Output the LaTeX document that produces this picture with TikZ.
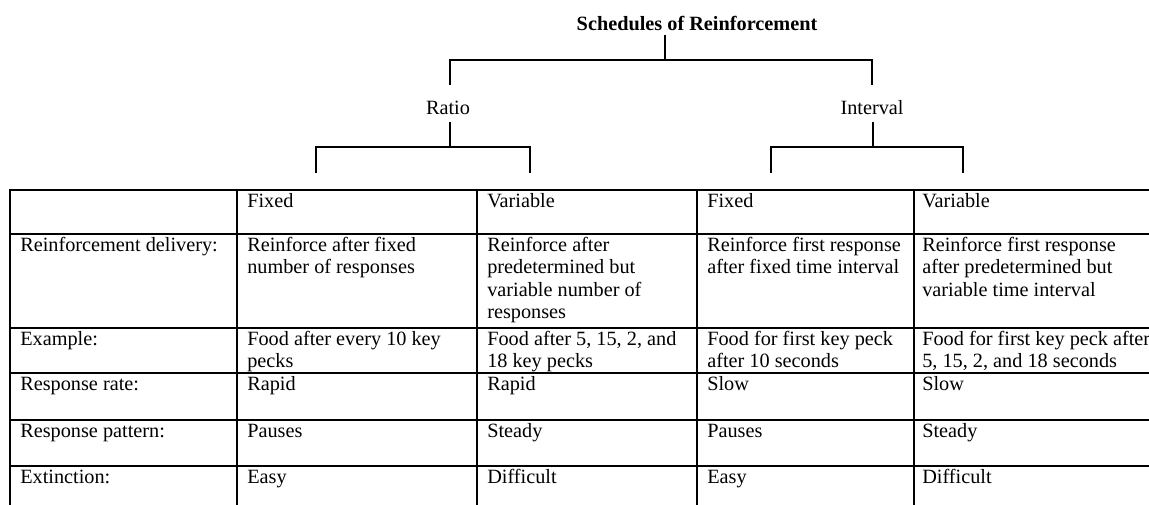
\documentclass[tikz,border=0pt]{standalone}
\usepackage{fontspec}
\setmainfont{Liberation Serif}
\begin{document}
\begin{tikzpicture}[x=0.75pt,y=-0.75pt,
  txt/.style={inner sep=0pt, font=\fontsize{15.2}{16.8}\selectfont},
  cell/.style={txt, anchor=north west, align=left, execute at begin node={\rule{0pt}{11pt}}},
  grid/.style={line width=1.4pt, line cap=rect},
  conn/.style={line width=1.5pt}]
\useasboundingbox (0,0) rectangle (1149,505);

% ---- tree ----
\node[txt, font=\fontsize{15.2}{16.8}\selectfont\bfseries] (title) at (697,23) {Schedules of Reinforcement};
\node[txt] (ratio) at (448,108) {Ratio};
\node[txt] (interval) at (872,108) {Interval};

\coordinate (t0) at (665,35);
\coordinate (t1) at (665,60);
\coordinate (rTop) at (450,85);
\coordinate (iTop) at (872,85);
\draw[conn] (t0) -- (t1);
\draw[conn] (rTop) -- (450,60) -- (872,60) -- (iTop);

\coordinate (rb0) at (450,122);
\coordinate (rbL) at (316,173);
\coordinate (rbR) at (530,173);
\draw[conn] (rb0) -- (450,147);
\draw[conn] (rbL) -- (316,147) -- (530,147) -- (rbR);

\coordinate (ib0) at (873,122);
\coordinate (ibL) at (771,173);
\coordinate (ibR) at (963,173);
\draw[conn] (ib0) -- (873,147);
\draw[conn] (ibL) -- (771,147) -- (963,147) -- (ibR);

% ---- table grid ----
\foreach \y in {190,234,328,373,420,466}
  \draw[grid] (10,\y) -- (1149,\y);
\foreach \x in {10,237,477,697,914}
  \draw[grid] (\x,190) -- (\x,505);

% ---- cells ----
% row 1
\node[cell] (h2) at (247,193) {Fixed};
\node[cell] (h3) at (487,193) {Variable};
\node[cell] (h4) at (707,193) {Fixed};
\node[cell] (h5) at (922,193) {Variable};
% row 2
\node[cell] (a1) at (20,237) {Reinforcement delivery:};
\node[cell] (a2) at (247,237) {Reinforce after fixed\\number of responses};
\node[cell] (a3) at (487,237) {Reinforce after\\predetermined but\\variable number of\\responses};
\node[cell] (a4) at (707,237) {Reinforce first response\\after fixed time interval};
\node[cell] (a5) at (922,237) {Reinforce first response\\after predetermined but\\variable time interval};
% row 3
\node[cell] (b1) at (20,331) {Example:};
\node[cell] (b2) at (247,331) {Food after every 10 key\\pecks};
\node[cell] (b3) at (487,331) {Food after 5, 15, 2, and\\18 key pecks};
\node[cell] (b4) at (707,331) {Food for first key peck\\after 10 seconds};
\node[cell] (b5) at (922,331) {Food for first key peck after\\5, 15, 2, and 18 seconds};
% row 4
\node[cell] (c1) at (20,376) {Response rate:};
\node[cell] (c2) at (247,376) {Rapid};
\node[cell] (c3) at (487,376) {Rapid};
\node[cell] (c4) at (707,376) {Slow};
\node[cell] (c5) at (922,376) {Slow};
% row 5
\node[cell] (d1) at (20,423) {Response pattern:};
\node[cell] (d2) at (247,423) {Pauses};
\node[cell] (d3) at (487,423) {Steady};
\node[cell] (d4) at (707,423) {Pauses};
\node[cell] (d5) at (922,423) {Steady};
% row 6
\node[cell] (e1) at (20,469) {Extinction:};
\node[cell] (e2) at (247,469) {Easy};
\node[cell] (e3) at (487,469) {Difficult};
\node[cell] (e4) at (707,469) {Easy};
\node[cell] (e5) at (922,469) {Difficult};
\end{tikzpicture}
\end{document}
